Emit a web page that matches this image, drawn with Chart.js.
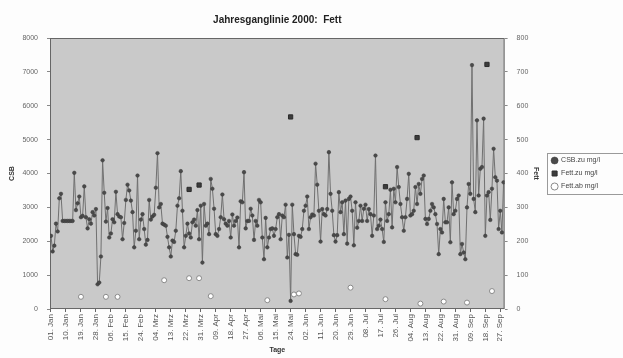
<!DOCTYPE html>
<html>
<head>
<meta charset="utf-8">
<script src="https://cdn.jsdelivr.net/npm/chart.js@4/dist/chart.umd.min.js"></script>
<style>
  body { margin: 0; background: #fdfdfd; }
  #wrap { width: 623px; height: 358px; }
</style>
</head>
<body>
<div id="wrap"><canvas id="chart"></canvas></div>
<script>
// tick labels every 9 days, starting 01. Jan 2000
const tickLabels = ['01. Jan', '10. Jan', '19. Jan', '28. Jan', '06. Feb', '15. Feb', '24. Feb', '04. Mrz',
    '13. Mrz', '22. Mrz', '31. Mrz', '09. Apr', '18. Apr', '27. Apr', '06. Mai', '15. Mai', '24. Mai',
    '02. Jun', '11. Jun', '20. Jun', '29. Jun', '08. Jul', '17. Jul', '26. Jul', '04. Aug', '13. Aug',
    '22. Aug', '31. Aug', '09. Sep', '18. Sep', '27. Sep'];

// CSB.zu mg/l, one value per day from 01. Jan
const csbValues = [
    2160, 1700, 1870, 2520, 2290, 3270, 3400, 2600, 2600, 2600, 2600, 2600, 2600, 2600, 4020, 2920,
    3120, 3320, 2710, 2750, 3620, 2710, 2380, 2650, 2520, 2860, 2760, 2950, 730, 780, 1550, 4390,
    3430, 2580, 2980, 2110, 2230, 2650, 2560, 3460, 2800, 2730, 2710, 2060, 2540, 3220, 3670, 3500,
    3200, 2860, 1820, 2310, 3940, 2060, 2640, 2800, 2360, 1900, 2040, 3220, 2640, 2730, 2780, 3580,
    4600, 3000, 3100, 2520, 2490, 2460, 2130, 1820, 1550, 2020, 1980, 2310, 3050, 3270, 4070, 2900,
    1820, 2160, 2520, 2230, 2110, 2560, 2640, 2460, 2920, 2060, 3050, 1370, 3100, 2460, 2520, 2210,
    3840, 3550, 2960, 2210, 2160, 2360, 2710, 3380, 2650, 2520, 2460, 2600, 2110, 2790, 2460, 2600,
    2700, 1820, 3180, 3150, 4040, 2380, 2600, 2600, 2960, 2760, 2040, 2600, 2460, 3220, 3150, 2110,
    1470, 2690, 1820, 2110, 2360, 2380, 2160, 2360, 2710, 2800, 2060, 2760, 2710, 3080, 1520, 2190,
    240, 3080, 2210, 1620, 1600, 2160, 2130, 2360, 2900, 3050, 3320, 2360, 2710, 2790, 2760, 4290,
    3670, 2900, 1990, 2950, 2800, 2760, 2950, 4630, 3400, 2900, 2180, 1990, 2180, 3450, 2860, 3150,
    2210, 3200, 1930, 3250, 3320, 2900, 1880, 3150, 2400, 2600, 3050, 2600, 2960, 3080, 2600, 2950,
    2800, 2160, 2760, 4530, 2360, 2460, 2640, 2360, 1980, 3150, 2600, 2800, 3520, 2410, 3550, 3150,
    4190, 3600, 3100, 2710, 2310, 2710, 3250, 3990, 2760, 2800, 2900, 3600, 3100, 3690, 3400, 3840,
    3940, 2660, 2510, 2660, 2900, 3100, 3000, 2800, 2510, 1620, 2360, 2260, 3250, 2560, 2560, 3000,
    1970, 3740, 2800, 2900, 3250, 3350, 1620, 1920, 1670, 1470, 3000, 3690, 3400, 7200, 3250, 2860,
    5570, 3350, 4140, 4190, 5620, 2160, 3350, 3450, 2630, 3550, 4730, 3890, 3790, 2360, 2900, 2260,
    3740];

// Fett.zu mg/l (right axis), sparse samples: day index and value
const fettZuDays = [83, 89, 144, 201, 220, 262];
const fettZuValues = [353, 366, 567, 361, 506, 722];

// Fett.ab mg/l (right axis)
const fettAbDays = [18, 33, 40, 68, 83, 89, 96, 130, 146, 149, 180, 201, 222, 236, 250, 265];
const fettAbValues = [36, 36, 36, 85, 91, 91, 38, 26, 43, 46, 63, 29, 16, 22, 19, 53];

const csbPoints = csbValues.map((v, i) => ({ x: i, y: v }));
const fettZuPoints = fettZuDays.map((d, i) => ({ x: d, y: fettZuValues[i] }));
const fettAbPoints = fettAbDays.map((d, i) => ({ x: d, y: fettAbValues[i] }));

const plotBg = {
    id: 'plotBg',
    beforeDatasetsDraw(chart) {
        const { ctx, chartArea: a } = chart;
        ctx.save();
        ctx.fillStyle = '#c9c9c9';
        ctx.fillRect(a.left, a.top, a.right - a.left, a.bottom - a.top);
        ctx.strokeStyle = '#666';
        ctx.lineWidth = 1;
        ctx.strokeRect(a.left + 0.5, a.top + 0.5, a.right - a.left - 1, a.bottom - a.top - 1);
        ctx.restore();
    },
    afterDraw(chart) {
        // thin frame round the legend entries only
        const boxes = chart.legend.legendHitBoxes;
        if (!boxes || !boxes.length) return;
        const ctx = chart.ctx;
        const x0 = Math.min(...boxes.map(b => b.left)) - 5;
        const y0 = Math.min(...boxes.map(b => b.top)) - 4;
        const y1 = Math.max(...boxes.map(b => b.top + b.height)) + 4;
        ctx.save();
        ctx.strokeStyle = '#9a9a9a';
        ctx.lineWidth = 1;
        ctx.strokeRect(Math.round(x0) + 0.5, Math.round(y0) + 0.5, 623 - x0, Math.round(y1 - y0));
        ctx.restore();
    }
};

const font = { family: 'Liberation Sans, Arial, sans-serif', size: 7 };

new Chart(document.getElementById('chart'), {
    type: 'scatter',
    data: {
        datasets: [{
            label: 'CSB.zu mg/l',
            data: csbPoints,
            showLine: true,
            yAxisID: 'y',
            borderColor: '#707070',
            borderWidth: 1,
            pointRadius: 1.8,
            pointBackgroundColor: '#4a4a4a',
            pointBorderColor: '#3a3a3a',
            pointBorderWidth: 0.5
        }, {
            label: 'Fett.zu mg/l',
            data: fettZuPoints,
            yAxisID: 'y1',
            pointStyle: 'rect',
            pointRadius: 3,
            pointBackgroundColor: '#3c3c3c',
            pointBorderColor: '#2c2c2c',
            borderColor: '#2c2c2c'
        }, {
            label: 'Fett.ab mg/l',
            data: fettAbPoints,
            yAxisID: 'y1',
            pointRadius: 2.5,
            pointBackgroundColor: '#ffffff',
            pointBorderColor: '#8a8a8a',
            borderColor: '#8a8a8a',
            pointBorderWidth: 1
        }]
    },
    options: {
        responsive: true,
        maintainAspectRatio: false,
        animation: false,
        layout: { padding: { left: 0, right: 13, top: 7, bottom: 4 } },
        scales: {
            x: {
                type: 'linear',
                min: -0.6,
                max: 272.6,
                afterBuildTicks: s => { s.ticks = tickLabels.map((t, i) => ({ value: i * 9 })); },
                ticks: {
                    autoSkip: false,
                    minRotation: 90,
                    maxRotation: 90,
                    padding: 2,
                    color: '#555',
                    font: { ...font, size: 8 },
                    callback: v => tickLabels[Math.round(v / 9)]
                },
                grid: { drawOnChartArea: false, tickLength: 3, color: '#666' },
                border: { display: false },
                title: { display: true, text: 'Tage', color: '#333', font: { ...font, weight: 'bold' }, padding: { top: 2, bottom: 0 } }
            },
            y: {
                position: 'left',
                min: 0,
                max: 8000,
                ticks: { stepSize: 1000, color: '#666', font, padding: 9, callback: v => String(v) },
                grid: { drawOnChartArea: false, tickLength: 3, color: '#888' },
                border: { display: false },
                title: { display: true, text: 'CSB', color: '#333', font: { ...font, weight: 'bold' }, padding: { top: 8, bottom: 0 } },
                afterFit: s => { s.width = 50; }
            },
            y1: {
                position: 'right',
                min: 0,
                max: 800,
                ticks: { stepSize: 100, color: '#666', font, padding: 9, callback: v => String(v) },
                grid: { drawOnChartArea: false, tickLength: 3, color: '#888' },
                border: { display: false },
                title: { display: true, text: 'Fett', color: '#333', font: { ...font, weight: 'bold' }, padding: { top: 5, bottom: 0 } },
                afterFit: s => { s.width = 41; }
            }
        },
        plugins: {
            title: {
                display: true,
                text: 'Jahresganglinie 2000:  Fett',
                fullSize: false,
                color: '#222',
                font: { family: 'Liberation Sans, Arial, sans-serif', size: 10, weight: 'bold' },
                padding: { top: 7, bottom: 12 }
            },
            legend: {
                position: 'right',
                fullSize: false,
                labels: {
                    usePointStyle: true,
                    boxWidth: 6,
                    boxHeight: 5,
                    padding: 6,
                    color: '#444',
                    font
                }
            },
            tooltip: { enabled: false }
        }
    },
    plugins: [plotBg]
});
</script>
</body>
</html>
